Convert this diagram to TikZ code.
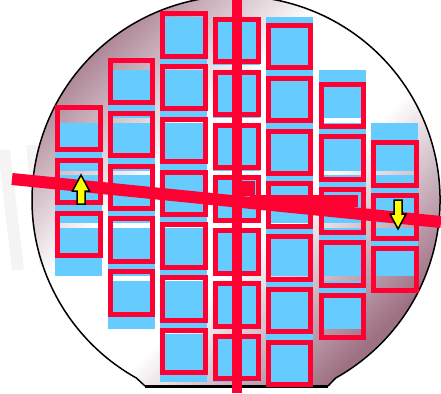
\documentclass[tikz,border=0pt]{standalone}
\usepackage{tikz}

\definecolor{dieblue}{RGB}{102,204,255}
\definecolor{linered}{RGB}{255,0,51}
\definecolor{waferdark}{RGB}{158,112,132}
\definecolor{arrowyellow}{RGB}{255,255,0}
\pgfdeclareverticalshading{waferfade}{100bp}{color(0bp)=(waferdark); color(26bp)=(waferdark);
    color(43bp)=(white); color(57bp)=(white); color(74bp)=(waferdark); color(100bp)=(waferdark)}

\begin{document}
\begin{tikzpicture}[x=1pt,y=-1pt,
    die/.style={fill=dieblue},
    diebox/.style={draw=linered,line width=5pt},
    cutline/.style={draw=linered,line width=10pt},
    shiftarrow/.style={fill=arrowyellow,draw=black,line width=1.5pt,line join=miter}]
\useasboundingbox (0,0) rectangle (441,393);

% faint strokes left of the wafer
\draw[gray!9,line width=12pt] (4,150) -- (18,270);
\draw[gray!9,line width=12pt] (32,145) -- (45,265);

% wafer with flat
\shade[shading=waferfade,shading angle=45]
    (328,386) -- (335.7,378) arc[start angle=60.75,end angle=-240.75,radius=204] -- (145,386) -- cycle;
\draw[line width=1.5pt] (328,386) -- (335.7,378) arc[start angle=60.75,end angle=-240.75,radius=204] -- (145,386);
\draw[line width=2.5pt] (145,386.5) -- (328,386.5);

% dies
\foreach \c/\first/\last in {1/2/4,2/1/5,3/0/6,4/0/6,5/0/6,6/1/5,7/2/4}
    \foreach \r in {\first,...,\last}
        \fill[die] ({55+52.7*(\c-1)},{17+52.8*\r}) rectangle +(47,48);

% shifted frames
\foreach \c/\first/\last in {1/2/4,2/1/5,3/0/6,4/0/6,5/0/6,6/1/5,7/2/4}
    \foreach \r in {\first,...,\last}
        \draw[diebox] ({55+52.7*(\c-1)+2.5},{17+52.8*\r+5.9*(\c-4)+2.5}) rectangle +(42.5,42.5);

% cut lines
\draw[cutline] (237,0) -- (237,393);
\draw[cutline,line width=12pt] (12,179) -- (441,222);
\fill[linered] (238,181) rectangle (255,196);
\fill[linered] (250,194.5) rectangle (358,207);

% arrows
\filldraw[shiftarrow] (81,175) -- (89.5,191) -- (85,191) -- (85,204) -- (77,204) -- (77,191) -- (72.5,191) -- cycle;
\filldraw[shiftarrow] (398,229) -- (406,214) -- (402,214) -- (402,200) -- (394,200) -- (394,214) -- (390,214) -- cycle;
\end{tikzpicture}
\end{document}
